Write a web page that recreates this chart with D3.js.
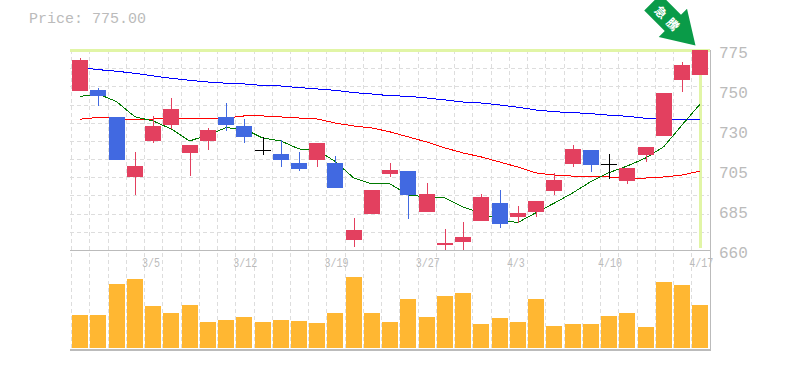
<!DOCTYPE html>
<html>
<head>
<meta charset="utf-8">
<script src="https://cdnjs.cloudflare.com/ajax/libs/d3/7.8.5/d3.min.js"></script>
<style>
  html, body { margin: 0; padding: 0; background: #fff; }
  text { font-family: "Liberation Mono", monospace; fill: #bbb; }
</style>
</head>
<body>
<div id="chart"></div>
<script>
const dates = ["2/27","2/28","3/1","3/2","3/5","3/6","3/7","3/8","3/9","3/12","3/13","3/14","3/15","3/16","3/19","3/20","3/22","3/23","3/26","3/27","3/28","3/29","3/30","4/2","4/3","4/4","4/5","4/6","4/9","4/10","4/11","4/12","4/13","4/16","4/17"];
const dateLabels = ["3/5","3/12","3/19","3/27","4/3","4/10","4/17"];
const opens  = [751.4,752,736.5,702,722.7,731.9,715.8,722.7,736.5,731.3,717.3,715.2,710,711.8,710,665.8,680.7,703.7,705.4,681.9,662.9,664.6,676.7,687,679,681.9,694,709.5,717.5,709.3,699.7,714.6,725.6,757.8,760.6];
const highs  = [770.2,753,736.5,716.4,737.1,747.4,720.4,730.2,744.5,735.3,725,723.3,716.4,721.5,714.1,678.4,694.5,710,705.4,698.5,672.1,676.1,692.2,694.5,685.3,688.2,704.3,720.4,717.5,715.2,707.2,719.2,750.3,768.1,775];
const lows   = [751.4,742.8,711.8,691.6,721.5,729.6,702.5,717.5,728.4,721.5,714.6,707.7,705.4,707.7,695.7,661.7,680.7,702,677.8,681.9,660,660,676.7,672.7,675.5,679,691.6,707.7,704.9,700.8,698,710.6,725.6,750.9,760.6];
const closes = [769.3,748.5,711.8,708.3,731.3,741.1,720.4,729,731.9,725,717.3,711.8,706.6,721.5,695.7,671.5,694.5,706,691.6,692.2,664,667.5,690.5,675,681.3,688.2,700.3,718.1,708.9,709.3,707.2,719.2,750.3,766.4,775];
const maShort = [748.3,749.7,745.3,736.6,734.2,729.6,722.7,726.1,730.3,729.6,724.4,722.7,718.1,717.5,710.8,701.4,698,698,691.6,690.5,689.9,684.7,681.3,677.3,675.8,681.5,687,692.8,699.3,704.5,708.3,712.9,719.4,731.9,744];
const maMid = [735.2,736.3,735.7,734.8,735.3,735.9,735.9,735.9,735.9,737.1,737.1,736.5,735.9,735.3,733,731.3,730.2,727.9,725,722.1,718.7,715.8,713.5,710.6,707.7,704.3,703.1,702.5,702.5,702,701.4,701.4,702,703.1,705.4];
const maLong = [765,763.7,762.8,761.6,760.1,758.7,757.6,756.6,755.9,755.5,754.6,754.3,753.4,752.6,751.8,750.5,749.7,748.7,748.4,747.4,746.3,745.1,744.5,743.4,742.1,740.5,739.5,739,738.4,737.5,736.9,735.7,735.2,735,735];
const volumes = [33,33,64,69,42,35,43,26,28,31,26,28,27,25,35,71,35,26,49,31,52,55,24,30,26,49,22,24,24,32,35,21,66,63,43];
const priceTicks = [660,683,706,729,752,775];
const priceLabels = ["660","685","705","730","750","775"];
const lastPrice = "775.00";
const badgeText = "急騰";

const width = 785, height = 370;
const plot = {left: 71, right: 709.4, top: 50, bottom: 250, volTop: 250, volBottom: 348};
const gridRows = 11;

const svg = d3.select("#chart").append("svg")
    .attr("width", width)
    .attr("height", height)
    .style("display", "block");

const x = d3.scaleBand()
    .domain(d3.range(dates.length))
    .range([plot.left, plot.right])
    .paddingInner(0.123)
    .paddingOuter(0.0615);
const y = d3.scaleLinear().domain([660, 775]).range([plot.bottom, plot.top]);
const yVol = d3.scaleLinear().domain([0, 98]).range([plot.volBottom, plot.volTop]);
const cx = i => x(i) + x.bandwidth() / 2;

// grid
const grid = svg.append("g")
    .attr("stroke", "#ddd")
    .attr("stroke-dasharray", "4,3")
    .attr("shape-rendering", "crispEdges");
grid.selectAll("line.v")
    .data(d3.range(dates.length))
    .join("line")
    .attr("class", "v")
    .attr("x1", i => Math.round(x(i) - 1))
    .attr("x2", i => Math.round(x(i) - 1))
    .attr("y1", plot.top)
    .attr("y2", 349);
grid.selectAll("line.h")
    .data(d3.range(1, gridRows))
    .join("line")
    .attr("class", "h")
    .attr("x1", 70)
    .attr("x2", 709)
    .attr("y1", i => Math.round(plot.top + i * (plot.bottom - plot.top) / gridRows))
    .attr("y2", i => Math.round(plot.top + i * (plot.bottom - plot.top) / gridRows));

// latest price highlight
const highlight = svg.append("g").attr("fill", "#e1f5a6");
highlight.append("rect").attr("x", 70).attr("y", 49).attr("width", 640).attr("height", 3);
highlight.append("rect").attr("x", Math.round(cx(34)) - 1).attr("y", 50).attr("width", 3).attr("height", 198);

// axis frame
const frame = svg.append("g")
    .attr("stroke", "#bbb")
    .attr("shape-rendering", "crispEdges");
frame.append("line").attr("x1", 70).attr("x2", 710).attr("y1", 250.5).attr("y2", 250.5);
frame.append("line").attr("x1", 70).attr("x2", 711).attr("y1", 350).attr("y2", 350).attr("stroke-width", 2);
frame.append("line").attr("x1", 710).attr("x2", 710).attr("y1", 50).attr("y2", 350).attr("stroke-width", 1);

// moving averages
const maLine = d3.line().x((d, i) => cx(i)).y(d => y(d));
[[maLong, "#0000ff"], [maMid, "#ff0000"], [maShort, "#007a00"]].forEach(([values, colour]) => {
    svg.append("path")
        .datum(values)
        .attr("fill", "none")
        .attr("stroke", colour)
        .attr("stroke-width", 1)
        .attr("shape-rendering", "crispEdges")
        .attr("d", maLine);
});

// candles
const candleColour = i => closes[i] === opens[i] ? "#000" : closes[i] > opens[i] ? "#e3405f" : "#4169e1";
const candles = svg.append("g")
    .selectAll("g")
    .data(d3.range(dates.length))
    .join("g")
    .attr("shape-rendering", "crispEdges");
candles.append("line")
    .attr("x1", i => Math.round(cx(i)) + 0.5)
    .attr("x2", i => Math.round(cx(i)) + 0.5)
    .attr("y1", i => y(highs[i]))
    .attr("y2", i => y(lows[i]))
    .attr("stroke", candleColour);
candles.append("rect")
    .attr("x", i => Math.round(x(i)))
    .attr("width", Math.round(x.bandwidth()))
    .attr("y", i => y(Math.max(opens[i], closes[i])))
    .attr("height", i => Math.max(1, Math.abs(y(opens[i]) - y(closes[i]))))
    .attr("fill", candleColour);

// volume
svg.append("g")
    .attr("fill", "#ffb732")
    .attr("shape-rendering", "crispEdges")
    .selectAll("rect")
    .data(volumes)
    .join("rect")
    .attr("x", (d, i) => Math.round(x(i)))
    .attr("width", Math.round(x.bandwidth()))
    .attr("y", d => yVol(d))
    .attr("height", d => yVol(0) - yVol(d));

// labels
svg.append("g")
    .attr("font-size", 16)
    .selectAll("text")
    .data(priceTicks)
    .join("text")
    .attr("x", 719)
    .attr("y", d => y(d) + 8)
    .text((d, i) => priceLabels[i]);
svg.append("g")
    .attr("font-size", 12)
    .selectAll("text")
    .data(dateLabels)
    .join("text")
    .attr("x", d => x(dates.indexOf(d)) - 3)
    .attr("y", 267)
    .attr("textLength", d => d.length * 6)
    .attr("lengthAdjust", "spacingAndGlyphs")
    .text(d => d);
svg.append("text")
    .attr("x", 29)
    .attr("y", 23)
    .attr("font-size", 15)
    .text("Price: " + lastPrice);

// badge arrow, tip on the last close
const badge = svg.append("g").attr("transform", "translate(695.5,45.5) rotate(135)");
badge.append("path")
    .attr("d", "M0,0 L-20,32 L-11.5,32 L-11.5,61 L11.5,61 L11.5,32 L20,32 Z")
    .attr("fill", "#0a9b48");
badge.append("text")
    .attr("transform", "translate(0,37) rotate(-90)")
    .attr("text-anchor", "middle")
    .attr("dominant-baseline", "central")
    .style("font-family", "'Noto Sans CJK JP'")
    .style("font-weight", 700)
    .style("fill", "#fff")
    .style("letter-spacing", "5px")
    .attr("font-size", 12)
    .text(badgeText);
</script>
</body>
</html>
